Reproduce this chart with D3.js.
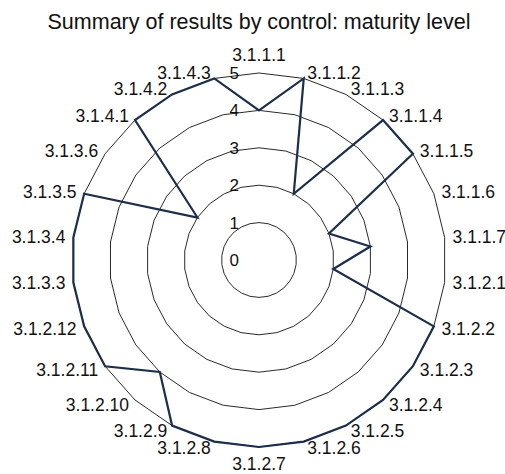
<!DOCTYPE html>
<html>
<head>
<meta charset="utf-8">
<script src="https://cdn.jsdelivr.net/npm/d3@7"></script>
<style>
  body { margin: 0; background: #fff; }
  svg { display: block; font-family: "Liberation Sans", Arial, sans-serif; }
</style>
</head>
<body>
<svg id="chart" width="505" height="474"></svg>
<script>
const width = 505;
const height = 474;

// Controls, clockwise from the top
const controls = [
  "3.1.1.1", "3.1.1.2", "3.1.1.3", "3.1.1.4", "3.1.1.5", "3.1.1.6", "3.1.1.7",
  "3.1.2.1", "3.1.2.2", "3.1.2.3", "3.1.2.4", "3.1.2.5", "3.1.2.6", "3.1.2.7",
  "3.1.2.8", "3.1.2.9", "3.1.2.10", "3.1.2.11", "3.1.2.12",
  "3.1.3.3", "3.1.3.4", "3.1.3.5", "3.1.3.6",
  "3.1.4.1", "3.1.4.2", "3.1.4.3"
];
// Maturity level per control
const maturity = [
  4, 5, 2, 5, 5, 2, 3,
  2, 5, 5, 5, 5, 5, 5,
  5, 5, 4, 5, 5,
  5, 5, 5, 2,
  5, 5, 5
];
const levels = [0, 1, 2, 3, 4, 5];

const cx = 259, cy = 260;
const r = d3.scaleLinear().domain([0, 5]).range([0, 187]);
const angle = d3.scalePoint().domain(controls).range([0, 2 * Math.PI * (controls.length - 1) / controls.length]);

const svg = d3.select("#chart");

svg.append("text")
    .attr("x", cx)
    .attr("y", 29)
    .attr("text-anchor", "middle")
    .style("font-size", "21.5px")
    .attr("fill", "#111")
    .text("Summary of results by control: maturity level");

const g = svg.append("g").attr("transform", `translate(${cx},${cy})`);

// polygon grid rings (no spokes)
const ringLine = d3.lineRadial()
    .angle(d => angle(d))
    .curve(d3.curveLinearClosed);

g.selectAll(".ring")
  .data(levels.slice(1))
  .join("path")
    .attr("class", "ring")
    .attr("d", lv => ringLine.radius(r(lv))(controls))
    .attr("fill", "none")
    .attr("stroke", "#2a2a2a")
    .attr("stroke-width", 1);

// level labels along the vertical axis
g.selectAll(".lvl")
  .data(levels)
  .join("text")
    .attr("class", "lvl")
    .attr("x", -20)
    .attr("y", d => -r(d))
    .attr("dy", "0.35em")
    .attr("text-anchor", "end")
    .style("font-size", "17px")
    .attr("fill", "#111")
    .text(d => d);

// data polygon
const dataLine = d3.lineRadial()
    .angle((d, i) => angle(controls[i]))
    .radius(d => r(d))
    .curve(d3.curveLinearClosed);

g.append("path")
    .datum(maturity)
    .attr("d", dataLine)
    .attr("fill", "none")
    .attr("stroke", "#1c2e4a")
    .attr("stroke-width", 2.2)
    .attr("stroke-linejoin", "miter");

// category labels just outside the outer ring
g.selectAll(".cat")
  .data(controls)
  .join("text")
    .attr("class", "cat")
    .each(function(d) {
      const a = angle(d);
      const s = Math.sin(a), c = Math.cos(a);
      const px = r(5) * s, py = -r(5) * c;
      const gap = 2 + 6 * Math.abs(s);
      const t = d3.select(this);
      if (Math.abs(s) < 0.05) {
        t.attr("text-anchor", "middle")
         .attr("x", px)
         .attr("y", c > 0 ? py - 18 : py + 17)
         .attr("dy", "0.35em");
      } else {
        t.attr("text-anchor", s > 0 ? "start" : "end")
         .attr("x", s > 0 ? px + gap : px - gap)
         .attr("y", py - c * 6)
         .attr("dy", "0.35em");
      }
    })
    .style("font-size", "17.5px")
    .attr("fill", "#111")
    .text(d => d);
</script>
</body>
</html>
